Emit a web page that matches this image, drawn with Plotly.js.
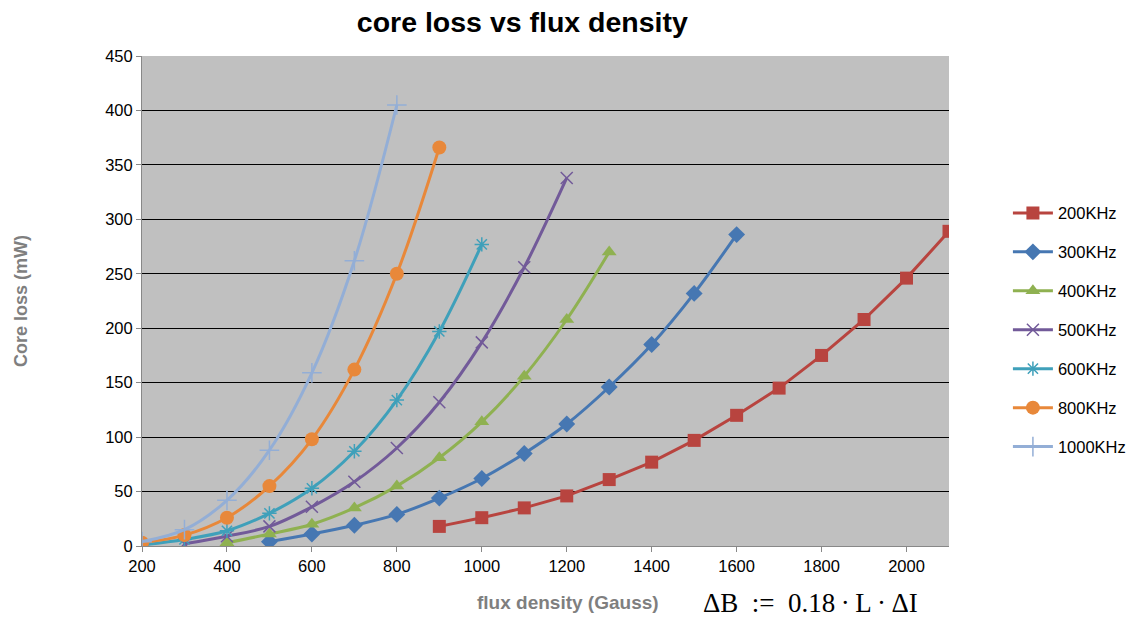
<!DOCTYPE html>
<html>
<head>
<meta charset="utf-8">
<script src="https://cdn.plot.ly/plotly-3.0.1.min.js"></script>
<style>html,body{margin:0;padding:0;background:#fff;}#chart{width:1143px;height:621px;}</style>
</head>
<body>
<div id="chart"></div>
<script>
const seriesNames = ["200KHz","300KHz","400KHz","500KHz","600KHz","800KHz","1000KHz"];
const x200 = [900,1000,1100,1200,1300,1400,1500,1600,1700,1800,1900,2000,2100];
const y200 = [18,26,35,46,61,77,97,120,145,175,208,246,289];
const x300 = [500,600,700,800,900,1000,1100,1200,1300,1400,1500,1600];
const y300 = [4,11,19,29,44,62,85,112,146,185,232,286];
const x400 = [400,500,600,700,800,900,1000,1100,1200,1300];
const y400 = [3,11,20,35,55,81,114,156,208,270];
const x500 = [300,400,500,600,700,800,900,1000,1100,1200];
const y500 = [2,9,18,36,59,90,132,187,256,338];
const x600 = [200,300,400,500,600,700,800,900,1000];
const y600 = [1,6,14,30,53,87,134,197,277];
const x800 = [200,300,400,500,600,700,800,900];
const y800 = [3,10,26,55,98,162,250,366];
const x1000 = [200,300,400,500,600,700,800];
const y1000 = [4,15,42,88,159,262,405];
const yTicks = [0,50,100,150,200,250,300,350,400,450];
const xTicks = [200,400,600,800,1000,1200,1400,1600,1800,2000];

const colors = ["#B8443F","#4677B2","#8FB151","#725A99","#3FA0BA","#E8883A","#93AED6"];
const xs = [x200,x300,x400,x500,x600,x800,x1000];
const ys = [y200,y300,y400,y500,y600,y800,y1000];
const symbols = ["square","diamond","triangle-up","x-thin-open","asterisk-open","circle","cross-thin-open"];
const sizes = [13,13,13,12,12,14,14];

const traces = seriesNames.map((n,i)=>({
  x: xs[i], y: ys[i], name: n, legendgroup: "g"+i, type: "scatter", mode: "lines+markers",
  line: {color: colors[i], width: 3, shape: i===0 ? "linear" : "spline", smoothing: 1},
  marker: {symbol: symbols[i], size: sizes[i], color: colors[i],
           line: {color: colors[i], width: (symbols[i].indexOf("open")>=0) ? 1.5 : 0}}
}));

const layout = {
  width: 1143, height: 621,
  margin: {l: 142, r: 194, t: 56, b: 75},
  paper_bgcolor: "#ffffff",
  plot_bgcolor: "#C0C0C0",
  font: {family: "Liberation Sans, Arial, sans-serif", size: 16.5, color: "#000"},
  title: {text: "<b>core loss vs flux density</b>", x: 0.457, xanchor: "center", y: 0.965, yanchor: "middle",
          font: {size: 28.5, color: "#000", family: "Liberation Sans, Arial, sans-serif"}},
  xaxis: {range: [200, 2100], tickvals: xTicks, ticktext: xTicks.map(String),
          showgrid: false, zeroline: false, showline: true, linecolor: "#888", linewidth: 1,
          ticks: "outside", ticklen: 5, tickcolor: "#888", tickfont: {size: 16.5}},
  yaxis: {range: [0, 450], tickvals: yTicks, ticktext: yTicks.map(String),
          showgrid: true, gridcolor: "#000", gridwidth: 1, zeroline: false,
          showline: true, linecolor: "#888", linewidth: 1,
          ticks: "outside", ticklen: 5, tickcolor: "#888", tickfont: {size: 16.5},
          title: {text: "<b>Core loss (mW)</b>", font: {size: 18, color: "#7f7f7f"}, standoff: 72}},
  legend: {x: 1.073, xanchor: "left", y: 0.715, yanchor: "top", bgcolor: "rgba(0,0,0,0)",
           font: {size: 16.5, color: "#000"}, tracegroupgap: 14.5, itemwidth: 40},
  showlegend: true,
  annotations: [{
    text: "<b>flux density (Gauss)</b>", xref: "paper", yref: "paper", x: 0.528, y: -0.116,
    xanchor: "center", yanchor: "middle", showarrow: false,
    font: {size: 19, color: "#7f7f7f"}
  }, {
    text: "ΔB\u00a0\u00a0:=\u00a0\u00a00.18\u2009·\u2009L\u2009·\u2009ΔI", xref: "paper", yref: "paper", x: 0.828, y: -0.116,
    xanchor: "center", yanchor: "middle", showarrow: false,
    font: {family: "Liberation Serif, Times New Roman, serif", size: 27, color: "#000"}
  }]
};
Plotly.newPlot("chart", traces, layout, {displayModeBar: false, staticPlot: true});
</script>
</body>
</html>
